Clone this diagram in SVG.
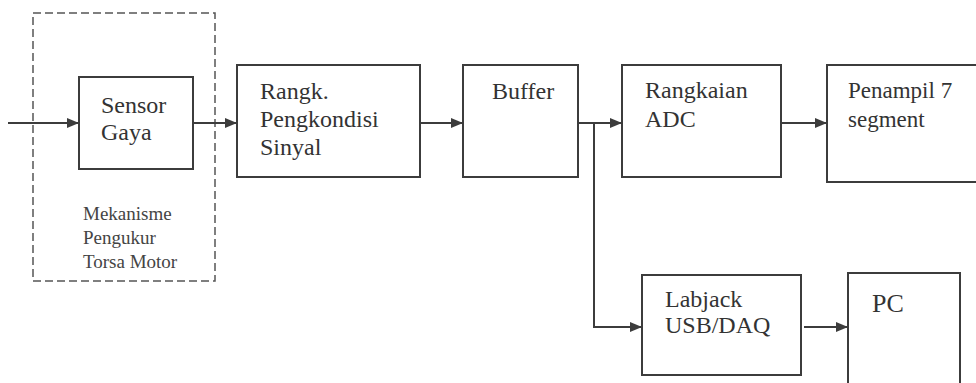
<svg xmlns="http://www.w3.org/2000/svg" width="976" height="383" viewBox="0 0 976 383" font-family="Times New Roman, Liberation Serif, serif">
  <defs>
    <marker id="arr" markerWidth="12" markerHeight="10" refX="12" refY="5" orient="auto" markerUnits="userSpaceOnUse">
      <path d="M0,0 L12,5 L0,10 Z" fill="#3c3c3c"/>
    </marker>
  </defs>
  <rect width="976" height="383" fill="#ffffff"/>

  <g id="mekanisme">
    <rect fill="none" stroke="#555555" stroke-width="1.5" stroke-dasharray="8 4" x="33" y="13" width="182" height="268"/>
    <text font-family="Times New Roman" font-size="19" fill="#444" x="83" y="220">Mekanisme</text>
    <text font-family="Times New Roman" font-size="19" fill="#444" x="83" y="244">Pengukur</text>
    <text font-family="Times New Roman" font-size="19" fill="#444" x="83" y="268">Torsa Motor</text>
  </g>

  <g id="sensor">
    <rect fill="#ffffff" stroke="#3c3c3c" stroke-width="2" x="79" y="77" width="114" height="92"/>
    <text font-family="Times New Roman" font-size="24" fill="#333" x="101" y="113">Sensor</text>
    <text font-family="Times New Roman" font-size="24" fill="#333" x="101" y="140">Gaya</text>
  </g>

  <g id="rangk">
    <rect fill="#ffffff" stroke="#3c3c3c" stroke-width="2" x="237" y="65" width="183" height="112"/>
    <text font-family="Times New Roman" font-size="24" fill="#333" x="260" y="99">Rangk.</text>
    <text font-family="Times New Roman" font-size="24" fill="#333" x="260" y="127">Pengkondisi</text>
    <text font-family="Times New Roman" font-size="24" fill="#333" x="260" y="155">Sinyal</text>
  </g>

  <g id="buffer">
    <rect fill="#ffffff" stroke="#3c3c3c" stroke-width="2" x="463" y="65" width="115" height="112"/>
    <text font-family="Times New Roman" font-size="24" fill="#333" x="492" y="99">Buffer</text>
  </g>

  <g id="adc">
    <rect fill="#ffffff" stroke="#3c3c3c" stroke-width="2" x="622" y="65" width="159" height="112"/>
    <text font-family="Times New Roman" font-size="24" fill="#333" x="645" y="98">Rangkaian</text>
    <text font-family="Times New Roman" font-size="24" fill="#333" x="645" y="127">ADC</text>
  </g>

  <g id="penampil">
    <rect fill="#ffffff" stroke="#3c3c3c" stroke-width="2" x="827" y="65" width="170" height="117"/>
    <text font-family="Times New Roman" font-size="23" fill="#333" x="848" y="98">Penampil 7</text>
    <text font-family="Times New Roman" font-size="23" fill="#333" x="848" y="127">segment</text>
  </g>

  <g id="labjack">
    <rect fill="#ffffff" stroke="#3c3c3c" stroke-width="2" x="642" y="275" width="159" height="100"/>
    <text font-family="Times New Roman" font-size="24" fill="#333" x="665" y="307">Labjack</text>
    <text font-family="Times New Roman" font-size="24" fill="#333" x="665" y="333">USB/DAQ</text>
  </g>

  <g id="pc">
    <rect fill="#ffffff" stroke="#3c3c3c" stroke-width="2" x="848" y="273" width="112" height="130"/>
    <text font-family="Times New Roman" font-size="26" fill="#333" x="872" y="312">PC</text>
  </g>

  <g id="connectors" fill="none" stroke="#3c3c3c" stroke-width="2">
    <line x1="8" y1="123" x2="79" y2="123" marker-end="url(#arr)"/>
    <line x1="193" y1="123" x2="237" y2="123" marker-end="url(#arr)"/>
    <line x1="420" y1="123" x2="463" y2="123" marker-end="url(#arr)"/>
    <line x1="578" y1="123" x2="622" y2="123" marker-end="url(#arr)"/>
    <polyline points="594,123 594,327 642,327" marker-end="url(#arr)"/>
    <line x1="781" y1="123" x2="827" y2="123" marker-end="url(#arr)"/>
    <line x1="804" y1="327" x2="848" y2="327" marker-end="url(#arr)"/>
  </g>
</svg>
